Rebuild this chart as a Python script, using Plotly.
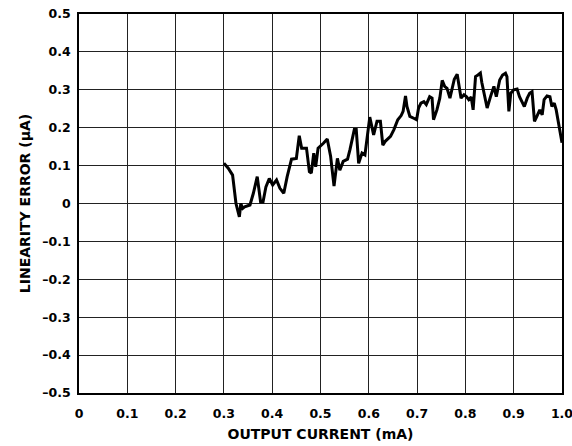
import plotly.graph_objects as go

current_ma = [0.300, 0.309, 0.318, 0.325, 0.332, 0.335, 0.339, 0.343, 0.354, 0.361, 0.369, 0.376,
              0.381, 0.387, 0.394, 0.401, 0.409, 0.416, 0.424, 0.431, 0.440, 0.450, 0.456, 0.461,
              0.471, 0.477, 0.481, 0.486, 0.490, 0.495, 0.506, 0.514, 0.521, 0.528, 0.535, 0.540,
              0.547, 0.556, 0.561, 0.570, 0.574, 0.579, 0.586, 0.592, 0.602, 0.610, 0.617, 0.624,
              0.629, 0.634, 0.645, 0.652, 0.660, 0.667, 0.671, 0.676, 0.679, 0.685, 0.693, 0.699,
              0.703, 0.708, 0.714, 0.719, 0.726, 0.731, 0.734, 0.741, 0.747, 0.752, 0.757, 0.762,
              0.768, 0.772, 0.777, 0.783, 0.788, 0.791, 0.797, 0.802, 0.807, 0.812, 0.816, 0.821,
              0.826, 0.831, 0.834, 0.839, 0.845, 0.852, 0.859, 0.864, 0.871, 0.877, 0.883, 0.886,
              0.890, 0.894, 0.900, 0.907, 0.912, 0.917, 0.922, 0.928, 0.933, 0.938, 0.943, 0.948,
              0.954, 0.959, 0.963, 0.969, 0.975, 0.979, 0.984, 0.988, 0.993, 1.000]
error_ua = [0.106, 0.093, 0.075, 0.000, -0.035, 0.000, -0.013, -0.009, -0.004, 0.027, 0.071, 0.004,
            0.004, 0.044, 0.066, 0.049, 0.062, 0.040, 0.027, 0.071, 0.117, 0.119, 0.179, 0.146,
            0.146, 0.084, 0.080, 0.133, 0.097, 0.146, 0.159, 0.170, 0.124, 0.046, 0.119, 0.088,
            0.111, 0.117, 0.142, 0.195, 0.195, 0.106, 0.133, 0.128, 0.228, 0.181, 0.217, 0.217,
            0.154, 0.164, 0.177, 0.195, 0.221, 0.232, 0.243, 0.284, 0.256, 0.230, 0.225, 0.221,
            0.252, 0.265, 0.269, 0.261, 0.282, 0.278, 0.221, 0.247, 0.278, 0.325, 0.309, 0.304,
            0.278, 0.300, 0.328, 0.341, 0.304, 0.278, 0.287, 0.282, 0.274, 0.281, 0.247, 0.335,
            0.339, 0.344, 0.319, 0.291, 0.252, 0.282, 0.309, 0.282, 0.326, 0.339, 0.344, 0.335,
            0.243, 0.291, 0.300, 0.302, 0.282, 0.269, 0.256, 0.278, 0.291, 0.295, 0.217, 0.230,
            0.247, 0.234, 0.274, 0.284, 0.282, 0.256, 0.265, 0.247, 0.212, 0.160]

x_ticks = [0, 0.1, 0.2, 0.3, 0.4, 0.5, 0.6, 0.7, 0.8, 0.9, 1.0]
x_labels = ["0", "0.1", "0.2", "0.3", "0.4", "0.5", "0.6", "0.7", "0.8", "0.9", "1.0"]
y_ticks = [-0.5, -0.4, -0.3, -0.2, -0.1, 0, 0.1, 0.2, 0.3, 0.4, 0.5]
y_labels = ["–0.5", "–0.4", "–0.3", "–0.2", "–0.1", "0", "0.1", "0.2", "0.3", "0.4", "0.5"]

font_family = "DejaVu Sans, Liberation Sans, Arial, sans-serif"
tick_font = dict(family=font_family, size=12.5, color="black", weight="bold")
title_font = dict(family=font_family, size=14, color="black", weight="bold")

fig = go.Figure()
fig.add_trace(go.Scatter(x=current_ma, y=error_ua, mode="lines",
                         line=dict(color="black", width=3), hoverinfo="skip",
                         cliponaxis=False))

fig.update_layout(
    width=572, height=446,
    margin=dict(l=79, r=10, t=14, b=53),
    paper_bgcolor="white", plot_bgcolor="white",
    showlegend=False,
    font=dict(family=font_family, size=12, color="black"),
)
fig.update_xaxes(
    range=[0, 1.0], tickvals=x_ticks, ticktext=x_labels,
    showgrid=True, gridcolor="#222222", gridwidth=1,
    showline=True, linecolor="black", linewidth=1.5, mirror=True,
    zeroline=False, ticks="", automargin=False,
    ticklabelstandoff=8, ticklabeloverflow="allow",
    tickfont=tick_font,
    title=dict(text="OUTPUT CURRENT (mA)", font=title_font, standoff=9),
)
fig.update_yaxes(
    range=[-0.5, 0.5], tickvals=y_ticks, ticktext=y_labels,
    showgrid=True, gridcolor="#222222", gridwidth=1,
    showline=True, linecolor="black", linewidth=1.5, mirror=True,
    zeroline=False, ticks="", automargin=False,
    ticklabelstandoff=4, ticklabeloverflow="allow",
    tickfont=tick_font,
    title=dict(text="LINEARITY ERROR (µA)", font=title_font, standoff=8),
)

fig.write_html(
    "out.html",
    config={"displayModeBar": False},
    post_script="document.body.style.margin='0';document.body.style.overflow='hidden';",
)
